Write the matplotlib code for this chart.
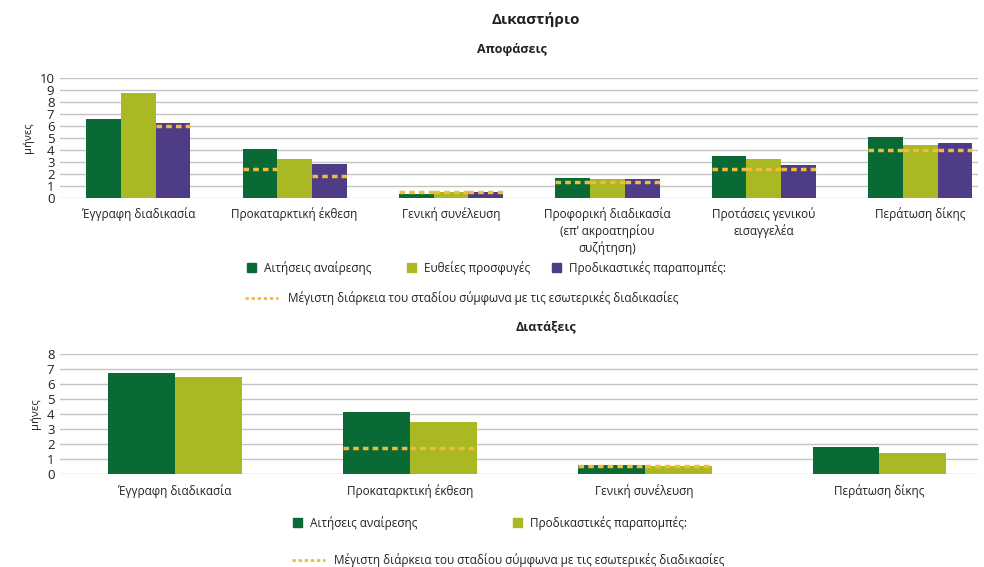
import numpy as np
import matplotlib
matplotlib.use("Agg")
import matplotlib.pyplot as plt
from matplotlib.patches import Patch
from matplotlib.lines import Line2D

plt.rcParams['font.family'] = ['Open Sans', 'DejaVu Sans']

# --- Αποφάσεις (top) ---
top_categories = ["Έγγραφη διαδικασία", "Προκαταρκτική έκθεση", "Γενική συνέλευση",
                  "Προφορική διαδικασία\n(επ’ ακροατηρίου\nσυζήτηση)",
                  "Προτάσεις γενικού\nεισαγγελέα", "Περάτωση δίκης"]
top_series = ["Αιτήσεις αναίρεσης", "Ευθείες προσφυγές", "Προδικαστικές παραπομπές:"]
top_annulment = [6.6, 4.1, 0.35, 1.65, 3.45, 5.1]
top_direct = [8.75, 3.2, 0.5, 1.6, 3.2, 4.4]
top_preliminary = [6.2, 2.85, 0.5, 1.6, 2.75, 4.55]
# maximum duration per stage (internal procedures), nan = not shown
top_max_annulment = [np.nan, 2.4, 0.45, 1.35, 2.4, 4.0]
top_max_direct = [np.nan, np.nan, 0.45, 1.35, 2.4, 4.0]
top_max_preliminary = [6.0, 1.8, 0.45, 1.35, 2.4, 4.0]

# --- Διατάξεις (bottom) ---
bot_categories = ["Έγγραφη διαδικασία", "Προκαταρκτική έκθεση", "Γενική συνέλευση", "Περάτωση δίκης"]
bot_series = ["Αιτήσεις αναίρεσης", "Προδικαστικές παραπομπές:"]
bot_annulment = [6.7, 4.1, 0.6, 1.8]
bot_preliminary = [6.45, 3.45, 0.5, 1.4]
bot_max_annulment = [np.nan, 1.75, 0.5, np.nan]
bot_max_preliminary = [np.nan, 1.75, 0.5, np.nan]

max_label = "Μέγιστη διάρκεια του σταδίου σύμφωνα με τις εσωτερικές διαδικασίες"

DARK_GREEN = "#0a6a35"
LIME = "#a9b823"
PURPLE = "#4e3d86"
YELLOW = "#f2bc3b"
GRID = "#c4c4c4"
TEXT = "#222222"


def draw_group(ax, values_list, max_list, colors, width):
    n = len(values_list)
    x = np.arange(len(values_list[0]))
    for i, (vals, maxs, c) in enumerate(zip(values_list, max_list, colors)):
        pos = x + (i - (n - 1) / 2) * width
        ax.bar(pos, vals, width=width, color=c, zorder=2)
        for p, m in zip(pos, maxs):
            if not np.isnan(m):
                ax.hlines(m, p - width / 2, p + width / 2, colors=YELLOW,
                          linewidth=2.5, linestyles=(0, (1.6, 1.2)), zorder=3)
    return x


def style_axis(ax, ymax, cats):
    ax.set_ylim(0, ymax)
    ax.set_yticks(range(0, ymax + 1))
    ax.grid(axis='y', color=GRID, linewidth=1, zorder=0)
    for s in ax.spines.values():
        s.set_visible(False)
    ax.tick_params(axis='both', length=0, labelsize=8.5, colors=TEXT)
    ax.tick_params(axis='y', labelsize=9.5, pad=4)
    ax.set_xticks(range(len(cats)))
    ax.set_xticklabels(cats, fontsize=8.5, color=TEXT, linespacing=1.25)
    ax.tick_params(axis='x', pad=7)
    ax.set_ylabel("μήνες", fontsize=8, color=TEXT, labelpad=4)


def legend_item(fig, handle, label, x, y, handlelength=0.8):
    leg = fig.legend([handle], [label], loc='center left', bbox_to_anchor=(x, y),
                     frameon=False, fontsize=8.5, handlelength=handlelength,
                     handleheight=0.8, handletextpad=0.6 if handlelength < 1 else 0.8,
                     borderpad=0, borderaxespad=0)
    for t in leg.get_texts():
        t.set_color(TEXT)
    return leg


def dotted_handle():
    return Line2D([], [], color=YELLOW, lw=2, linestyle=(0, (1.2, 1.0)))


fig = plt.figure(figsize=(9.84, 5.67), dpi=100)
W, H = 984.0, 567.0

fig.text(0.545, 0.965, "Δικαστήριο", ha='center', va='center', fontsize=11,
         fontweight='bold', color=TEXT)

# top chart
ax1 = fig.add_axes([0.061, 0.651, 0.933, 0.212])
draw_group(ax1, [top_annulment, top_direct, top_preliminary],
           [top_max_annulment, top_max_direct, top_max_preliminary],
           [DARK_GREEN, LIME, PURPLE], 0.222)
style_axis(ax1, 10, top_categories)
ax1.set_xlim(-0.5, 5.37)
fig.text(0.52, 0.912, "Αποφάσεις", ha='center', va='center', fontsize=9,
         fontweight='bold', color=TEXT)

for c, lab, px in zip([DARK_GREEN, LIME, PURPLE], top_series, [247, 407, 552]):
    legend_item(fig, Patch(color=c), lab, px / W, 1 - 268 / H)
legend_item(fig, dotted_handle(), max_label, 245 / W, 1 - 298 / H, handlelength=2.8)

# bottom chart
ax2 = fig.add_axes([0.061, 0.164, 0.933, 0.212])
draw_group(ax2, [bot_annulment, bot_preliminary], [bot_max_annulment, bot_max_preliminary],
           [DARK_GREEN, LIME], 0.285)
style_axis(ax2, 8, bot_categories)
ax2.set_xlim(-0.49, 3.42)
fig.text(0.555, 0.423, "Διατάξεις", ha='center', va='center', fontsize=9,
         fontweight='bold', color=TEXT)

for c, lab, px in zip([DARK_GREEN, LIME], bot_series, [293, 513]):
    legend_item(fig, Patch(color=c), lab, px / W, 1 - 523 / H)
legend_item(fig, dotted_handle(), max_label, 292 / W, 1 - 560 / H, handlelength=2.8)

fig.savefig("out.png", dpi=100)
